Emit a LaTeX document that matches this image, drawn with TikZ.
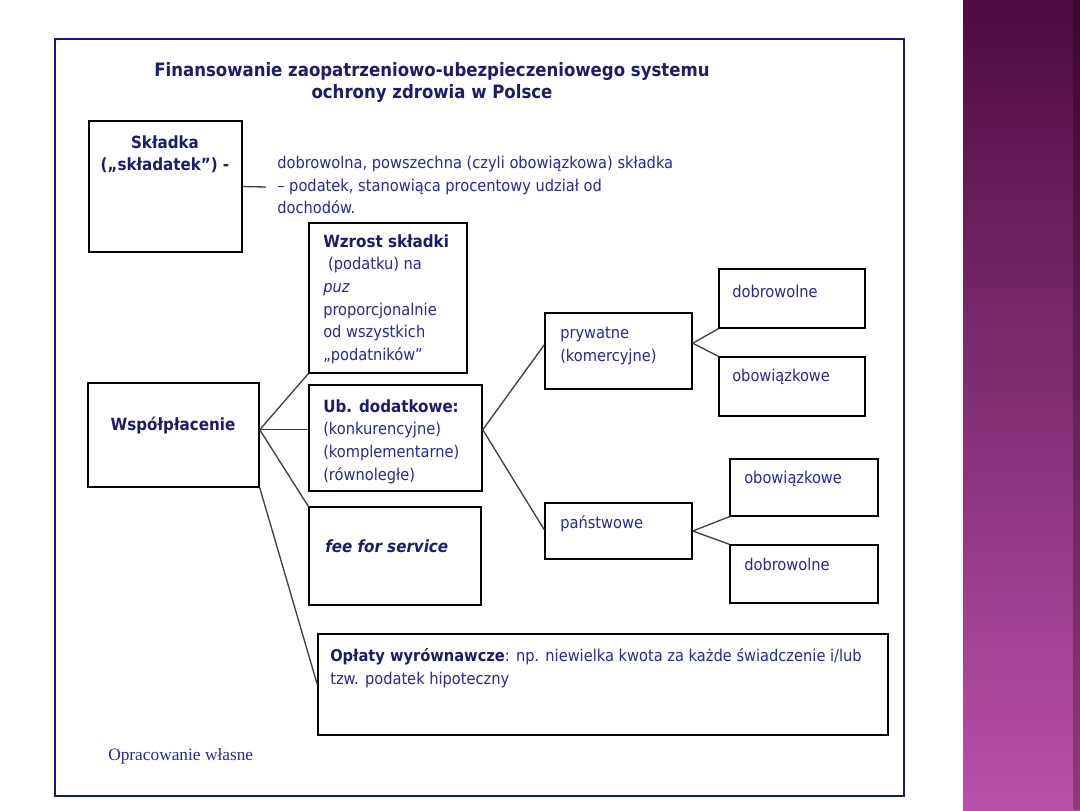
\documentclass[tikz,border=0pt]{standalone}
\usepackage{fontspec}
\setmainfont{DejaVu Sans Condensed}
\newfontfamily\srcfont{Liberation Serif}
\usetikzlibrary{fit,calc}
\definecolor{txtblue}{RGB}{40,40,150}
\definecolor{boldblue}{RGB}{28,28,110}
\definecolor{framenavy}{RGB}{20,20,130}
\definecolor{purtop}{RGB}{78,12,64}
\definecolor{purmid}{RGB}{140,52,125}
\definecolor{purbot}{RGB}{186,80,170}
\begin{document}
\begin{tikzpicture}[x=0.75pt,y=-0.75pt,
  box/.style={draw=black, line width=1.1pt, inner sep=0pt, fill=white},
  conn/.style={draw=black!75, line width=1pt},
  txt/.style={inner sep=0pt, text=txtblue, font=\fontsize{12.2}{17}\selectfont, align=left},
  btxt/.style={inner sep=0pt, text=boldblue, font=\fontsize{12.6}{17}\selectfont\bfseries, align=left},
  ttl/.style={inner sep=0pt, text=boldblue, font=\fontsize{13.8}{16.5}\selectfont\bfseries, align=center},
  srctxt/.style={inner sep=0pt, text=txtblue, font=\fontsize{13}{15}\selectfont\srcfont}
]
\useasboundingbox (0,0) rectangle (1080,810);
\fill[white] (0,0) rectangle (1080,810);
\shade[top color=purtop, middle color=purmid, bottom color=purbot] (963,0) rectangle (1080,810);
\fill[black, opacity=0.25] (1073,0) rectangle (1080,810);
\draw[framenavy, line width=1.8pt] (55,39) rectangle (904,796);

% title
\node[ttl, anchor=north] (title) at (432,62) {Finansowanie zaopatrzeniowo-ubezpieczeniowego systemu\\ochrony zdrowia w Polsce};

% boxes
\node[box, fit={(89,121)(242,252)}] (skl) {};
\node[box, fit={(309,223)(467,373)}] (wzr) {};
\node[box, fit={(309,385)(482,491)}] (ub) {};
\node[box, fit={(309,507)(481,605)}] (fee) {};
\node[box, fit={(88,383)(259,487)}] (wsp) {};
\node[box, fit={(318,634)(888,735)}] (opl) {};
\node[box, fit={(545,313)(692,389)}] (pry) {};
\node[box, fit={(545,503)(692,559)}] (pan) {};
\node[box, fit={(719,269)(865,328)}] (dob1) {};
\node[box, fit={(719,357)(865,416)}] (obo1) {};
\node[box, fit={(730,459)(878,516)}] (obo2) {};
\node[box, fit={(730,545)(878,603)}] (dob2) {};

% texts
\node[btxt, anchor=north, align=center] (sklt) at (165,135) {Składka\\(„składatek”) -};
\node[txt, anchor=north west] (desc) at (277,156) {dobrowolna, powszechna (czyli obowiązkowa) składka\\– podatek, stanowiąca procentowy udział od\\dochodów.};
\node[txt, anchor=north west] (wzrt) at (323,234) {{\color{boldblue}\bfseries\fontsize{12.6}{17}\selectfont Wzrost składki}\\\hspace*{0.3em}(podatku) na\\\textit{puz}\\proporcjonalnie\\od wszystkich\\„podatników”};
\node[txt, anchor=north west] (ubt) at (323,399) {{\color{boldblue}\bfseries\fontsize{12.6}{17}\selectfont Ub. dodatkowe:}\\(konkurencyjne)\\(komplementarne)\\(równoległe)};
\node[btxt, anchor=west] (feet) at (325,546) {\itshape fee for service};
\node[btxt, anchor=center] (wspt) at (173,426) {Współpłacenie};
\node[txt, anchor=north west] (oplt) at (330,648) {{\color{boldblue}\bfseries Opłaty wyrównawcze}: np. niewielka kwota za każde świadczenie i/lub\\tzw. podatek hipoteczny};
\node[txt, anchor=north west] (pryt) at (560,327) {prywatne\\(komercyjne)};
\node[txt, anchor=west] (pant) at (560,524) {państwowe};
\node[txt, anchor=west] (dob1t) at (732,291) {dobrowolne};
\node[txt, anchor=west] (obo1t) at (732,377) {obowiązkowe};
\node[txt, anchor=west] (obo2t) at (744,479) {obowiązkowe};
\node[txt, anchor=west] (dob2t) at (744,564) {dobrowolne};
\node[srctxt, anchor=west] (src) at (108,756) {Opracowanie własne};

% connectors
\coordinate (descL) at (266,187);
\draw[conn] (skl.east) -- (descL);
\coordinate (hub) at ($(wsp.north east)!0.45!(wsp.south east)$);
\draw[conn] (hub) -- (wzr.south west);
\draw[conn] (hub) -- (hub -| ub.west);
\draw[conn] (hub) -- (fee.north west);
\draw[conn] (wsp.south east) -- (opl.west);
\coordinate (hub2) at (hub -| ub.east);
\draw[conn] (hub2) -- ($(pry.north west)!0.42!(pry.south west)$);
\draw[conn] (hub2) -- ($(pan.north west)!0.48!(pan.south west)$);
\coordinate (prr) at ($(pry.north east)!0.4!(pry.south east)$);
\draw[conn] (prr) -- (dob1.south west);
\draw[conn] (prr) -- (obo1.north west);
\draw[conn] (pan.east) -- (obo2.south west);
\draw[conn] (pan.east) -- (dob2.north west);
\end{tikzpicture}
\end{document}
